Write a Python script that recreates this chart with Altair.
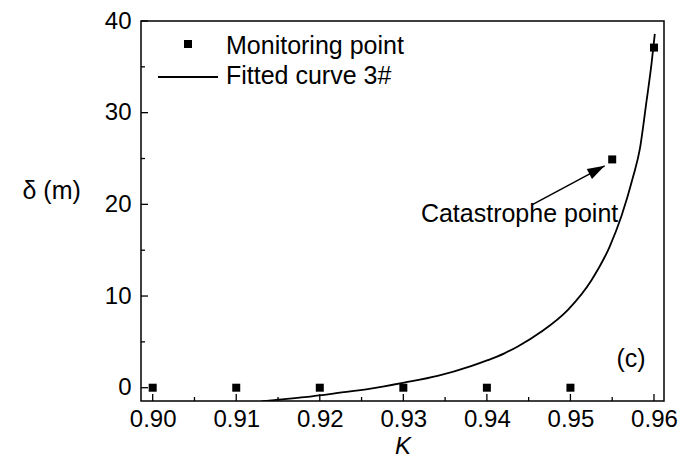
import altair as alt
import pandas as pd

# ---- data ----
mon_K = [0.90, 0.91, 0.92, 0.93, 0.94, 0.95, 0.955, 0.96]
mon_d = [0.0, 0.0, 0.0, 0.0, 0.0, 0.0, 24.9, 37.1]

fit_K = [0.9130, 0.9142, 0.9182, 0.9222, 0.9261, 0.9301, 0.9341, 0.9381, 0.9401,
         0.9421, 0.9437, 0.9465, 0.9497, 0.9525, 0.9547, 0.9561, 0.9575, 0.9583,
         0.9591, 0.9597, 0.9601]
fit_d = [-1.50, -1.38, -1.02, -0.57, -0.10, 0.55, 1.28, 2.35, 3.0,
         3.75, 4.5, 6.1, 8.5, 11.7, 15.4, 18.7, 23.0, 26.0,
         31.2, 35.3, 38.6]

x_major = [0.90, 0.91, 0.92, 0.93, 0.94, 0.95, 0.96]
x_minor = [0.905, 0.915, 0.925, 0.935, 0.945, 0.955]
y_major = [0, 10, 20, 30, 40]
y_minor = [5, 15, 25, 35]

legend_labels = ["Monitoring point", "Fitted curve 3#"]
annot_text = "Catastrophe point"
annot_pos = (0.9321, 18.9)
arrow_from = (0.9455, 20.0)
arrow_to = (0.9541, 24.2)
panel_label = "(c)"
panel_pos = (0.9590, 3.1)

FONT = "Liberation Sans"
FS = 25
LFS = 24
W, H = 523, 380

xs = alt.Scale(domain=[0.8986, 0.9612], nice=False, zero=False)
ys = alt.Scale(domain=[-1.45, 40], nice=False, zero=False)

xaxis = alt.Axis(values=x_major, format=".2f", title="K", titleFontStyle="italic",
                 labelPadding=6, titleY=45, titleBaseline="middle", titleFontSize=24)
yaxis = alt.Axis(values=y_major, format="d", title="δ (m)", titleAngle=0,
                 titleAlign="left", titleBaseline="middle", titleX=-119, titleY=169,
                 labelPadding=10)

def X(field="K"):
    return alt.X(f"{field}:Q", scale=xs, axis=xaxis)

def Y(field="delta"):
    return alt.Y(f"{field}:Q", scale=ys, axis=yaxis)

mon = pd.DataFrame({"K": mon_K, "delta": mon_d})
fit = pd.DataFrame({"K": fit_K, "delta": fit_d})

points = alt.Chart(mon).mark_point(shape="square", filled=True, size=64,
                                   color="black", opacity=1).encode(x=X(), y=Y())

curve = alt.Chart(fit).mark_line(color="black", strokeWidth=1.8,
                                 interpolate="monotone", clip=True).encode(x=X(), y=Y())

def xticks(vals, length):
    return alt.Chart(pd.DataFrame({"K": vals})).mark_rule(color="black", strokeWidth=1.3).encode(
        x=X(), y=alt.value(H), y2=alt.value(H - length))

def yticks(vals, length):
    return alt.Chart(pd.DataFrame({"delta": vals})).mark_rule(color="black", strokeWidth=1.3).encode(
        y=Y(), x=alt.value(0), x2=alt.value(length))

arrow_df = pd.DataFrame({"K": [arrow_from[0]], "delta": [arrow_from[1]],
                         "K2": [arrow_to[0]], "delta2": [arrow_to[1]]})
arrow_line = alt.Chart(arrow_df).mark_rule(color="black", strokeWidth=1.5).encode(
    x=X(), y=Y(), x2="K2:Q", y2="delta2:Q")
arrow_head = alt.Chart(pd.DataFrame({"K": [arrow_to[0]], "delta": [arrow_to[1]]})).mark_point(
    shape="M0,0L-0.32,1L0.32,1Z", filled=True, color="black", opacity=1, size=1200,
    angle=62).encode(x=X(), y=Y())

annot = alt.Chart(pd.DataFrame({"K": [annot_pos[0]], "delta": [annot_pos[1]], "t": [annot_text]})).mark_text(
    align="left", baseline="middle", font=FONT, fontSize=FS, color="black").encode(
    x=X(), y=Y(), text="t:N")

panel = alt.Chart(pd.DataFrame({"K": [panel_pos[0]], "delta": [panel_pos[1]], "t": [panel_label]})).mark_text(
    align="right", baseline="middle", font=FONT, fontSize=FS, color="black").encode(
    x=X(), y=Y(), text="t:N")

# legend (manual)
leg_text1 = alt.Chart(pd.DataFrame({"t": [legend_labels[0]]})).mark_text(
    align="left", baseline="middle", font=FONT, fontSize=FS, color="black").encode(
    x=alt.value(85), y=alt.value(25), text="t:N")
leg_text2 = alt.Chart(pd.DataFrame({"t": [legend_labels[1]]})).mark_text(
    align="left", baseline="middle", font=FONT, fontSize=FS, color="black").encode(
    x=alt.value(85), y=alt.value(55), text="t:N")
leg_sym = alt.Chart(pd.DataFrame({"t": [legend_labels[0]]})).mark_point(
    shape="square", filled=True, size=64, color="black", opacity=1).encode(
    x=alt.value(47), y=alt.value(23))
leg_line = alt.Chart(pd.DataFrame({"t": [legend_labels[1]]})).mark_rule(color="black", strokeWidth=1.8).encode(
    x=alt.value(17), x2=alt.value(77), y=alt.value(56))

chart = alt.layer(
    points, curve,
    xticks(x_major, 7), xticks(x_minor, 4), yticks(y_major, 7), yticks(y_minor, 4),
    arrow_line, arrow_head, annot, panel,
    leg_text1, leg_text2, leg_sym, leg_line,
).properties(
    width=W, height=H,
    autosize=alt.AutoSizeParams(type="none"),
    padding={"left": 133, "top": 13, "right": 14, "bottom": 57},
).configure_view(stroke="black", strokeWidth=1.5).configure_axis(
    grid=False, domain=False, ticks=False,
    labelFont=FONT, labelFontSize=LFS, labelColor="black",
    titleFont=FONT, titleFontSize=FS, titleColor="black", titleFontWeight="normal",
)

chart.save("out.html", embed_options={"renderer": "svg", "actions": False})
